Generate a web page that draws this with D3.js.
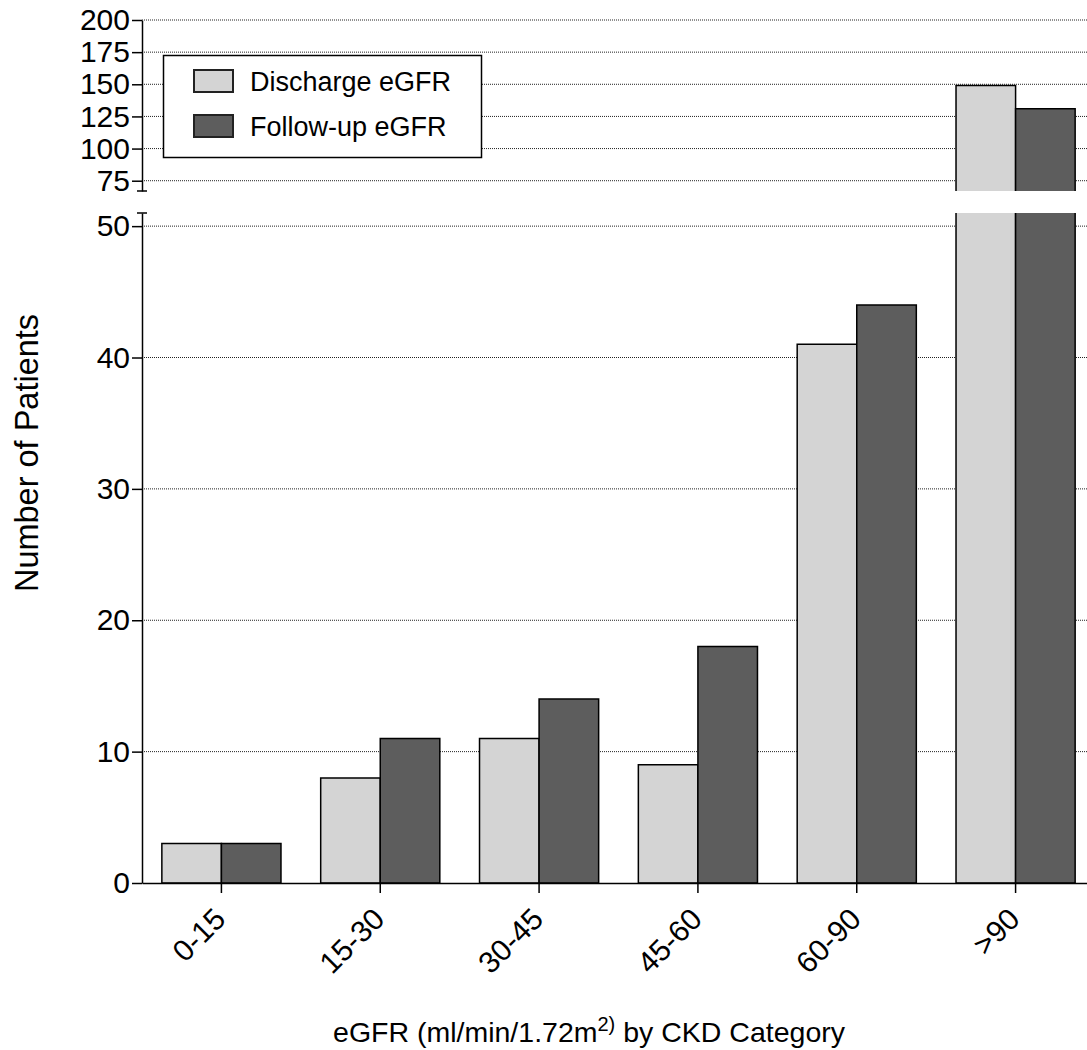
<!DOCTYPE html>
<html lang="en">
<head>
<meta charset="UTF-8">
<title>eGFR by CKD Category</title>
<script src="https://d3js.org/d3.v7.min.js"></script>
<style>
    body { margin: 0; background: #fff; }
    svg text { font-family: "Liberation Sans", Arial, sans-serif; fill: #000; }
</style>
</head>
<body>
<svg id="chart" width="1087" height="1050"></svg>
<script>
    var categories = ["0-15", "15-30", "30-45", "45-60", "60-90", ">90"];
    var discharge = [3, 8, 11, 9, 41, 149];
    var followUp = [3, 11, 14, 18, 44, 131];
    var seriesNames = ["Discharge eGFR", "Follow-up eGFR"];
    var seriesColors = ["#d4d4d4", "#5d5d5d"];
    var lowerTicks = [0, 10, 20, 30, 40, 50];
    var upperTicks = [75, 100, 125, 150, 175, 200];

    var svg = d3.select("#chart");
    var width = +svg.attr("width");
    var left = 142, right = 1095;   // last group runs slightly past the picture edge

    var x0 = d3.scaleBand().domain(categories).range([left, right])
        .paddingInner(0.25).paddingOuter(0.125);
    var x1 = d3.scaleBand().domain([0, 1]).range([0, x0.bandwidth()]);

    // two pieces of the broken y axis
    var yLow = d3.scaleLinear().domain([0, 51]).range([883, 213]);
    var yHigh = d3.scaleLinear().domain([67, 200]).range([191, 20]);
    var segments = [
        { y: yLow, lo: 0, hi: 51, ticks: lowerTicks },
        { y: yHigh, lo: 67, hi: 200, ticks: upperTicks }
    ];

    var rows = categories.map(function (c, i) {
        return { cat: c, vals: [discharge[i], followUp[i]] };
    });

    // dotted grid
    segments.forEach(function (s) {
        svg.append("g").selectAll("line")
            .data(s.ticks.filter(function (t) { return t > 0; }))
            .enter().append("line")
            .attr("x1", left).attr("x2", width)
            .attr("y1", function (d) { return s.y(d); })
            .attr("y2", function (d) { return s.y(d); })
            .attr("stroke", "#222")
            .attr("stroke-width", 1)
            .attr("stroke-dasharray", "1,1");
    });

    // outline of a bar; the edge lying on an axis break stays open
    function outline(x, w, yTop, yBot, openTop, openBot) {
        var p = d3.path();
        if (openBot) {
            p.moveTo(x, yBot); p.lineTo(x, yTop); p.lineTo(x + w, yTop); p.lineTo(x + w, yBot);
        } else if (openTop) {
            p.moveTo(x, yTop); p.lineTo(x, yBot); p.lineTo(x + w, yBot); p.lineTo(x + w, yTop);
        } else {
            p.rect(x, yTop, w, yBot - yTop);
        }
        return p.toString();
    }

    // bars, cut at each segment's limits
    segments.forEach(function (s) {
        var g = svg.append("g").selectAll("g").data(rows).enter().append("g")
            .attr("transform", function (d) { return "translate(" + x0(d.cat) + ",0)"; });
        var bars = g.selectAll("g")
            .data(function (d) { return d.vals.map(function (v, j) { return { v: v, j: j }; }); })
            .enter()
            .filter(function (d) { return d.v > s.lo; })
            .append("g");
        bars.append("rect")
            .attr("x", function (d) { return x1(d.j); })
            .attr("width", x1.bandwidth())
            .attr("y", function (d) { return s.y(Math.min(d.v, s.hi)); })
            .attr("height", function (d) { return s.y(s.lo) - s.y(Math.min(d.v, s.hi)); })
            .attr("fill", function (d) { return seriesColors[d.j]; });
        bars.append("path")
            .attr("d", function (d) {
                return outline(x1(d.j), x1.bandwidth(), s.y(Math.min(d.v, s.hi)), s.y(s.lo),
                    d.v > s.hi, s.lo > 0);
            })
            .attr("fill", "none")
            .attr("stroke", "#000")
            .attr("stroke-width", 1.5);
    });

    // y axes
    segments.forEach(function (s) {
        var ax = svg.append("g")
            .attr("transform", "translate(" + left + ",0)")
            .call(d3.axisLeft(s.y).tickValues(s.ticks).tickSize(10).tickSizeOuter(0).tickPadding(2));
        ax.selectAll("path, line").attr("stroke", "#000").attr("stroke-width", 1.5);
        ax.selectAll("text").attr("font-size", 30).attr("font-family", "Liberation Sans, Arial, sans-serif");
        // small cap where the axis breaks
        var capY = s.lo === 0 ? s.y(s.hi) : s.y(s.lo);
        ax.append("line").attr("x1", -5).attr("x2", 5).attr("y1", capY).attr("y2", capY)
            .attr("stroke", "#000").attr("stroke-width", 1.5);
    });

    // x axis
    var xAx = svg.append("g")
        .attr("transform", "translate(0," + yLow(0) + ")")
        .call(d3.axisBottom(x0).tickSize(10).tickSizeOuter(0));
    xAx.selectAll("path, line").attr("stroke", "#000").attr("stroke-width", 1.5);
    xAx.selectAll("text")
        .attr("font-size", 30)
        .attr("font-family", "Liberation Sans, Arial, sans-serif")
        .attr("y", 0).attr("dy", 0)
        .attr("text-anchor", "end")
        .attr("transform", "translate(6,38) rotate(-45)");

    // legend
    var legend = svg.append("g");
    legend.append("rect")
        .attr("x", 163.5).attr("y", 55.5).attr("width", 318).attr("height", 102)
        .attr("fill", "#fff").attr("stroke", "#000").attr("stroke-width", 1.5);
    seriesNames.forEach(function (name, i) {
        legend.append("rect")
            .attr("x", 194).attr("y", 70 + i * 45).attr("width", 39).attr("height", 22)
            .attr("fill", seriesColors[i]).attr("stroke", "#222").attr("stroke-width", 2);
        legend.append("text")
            .attr("x", 250).attr("y", 91 + i * 45)
            .attr("font-size", 27)
            .text(name);
    });

    // axis titles
    var xt = svg.append("text")
        .attr("x", 589).attr("y", 1042)
        .attr("text-anchor", "middle")
        .attr("font-size", 28.5);
    xt.append("tspan").text("eGFR (ml/min/1.72m");
    xt.append("tspan").attr("font-size", 20).attr("dy", -11).text("2)");
    xt.append("tspan").attr("dy", 11).text(" by CKD Category");

    svg.append("text")
        .attr("transform", "translate(38,453) rotate(-90)")
        .attr("text-anchor", "middle")
        .attr("font-size", 32.5)
        .text("Number of Patients");
</script>
</body>
</html>
